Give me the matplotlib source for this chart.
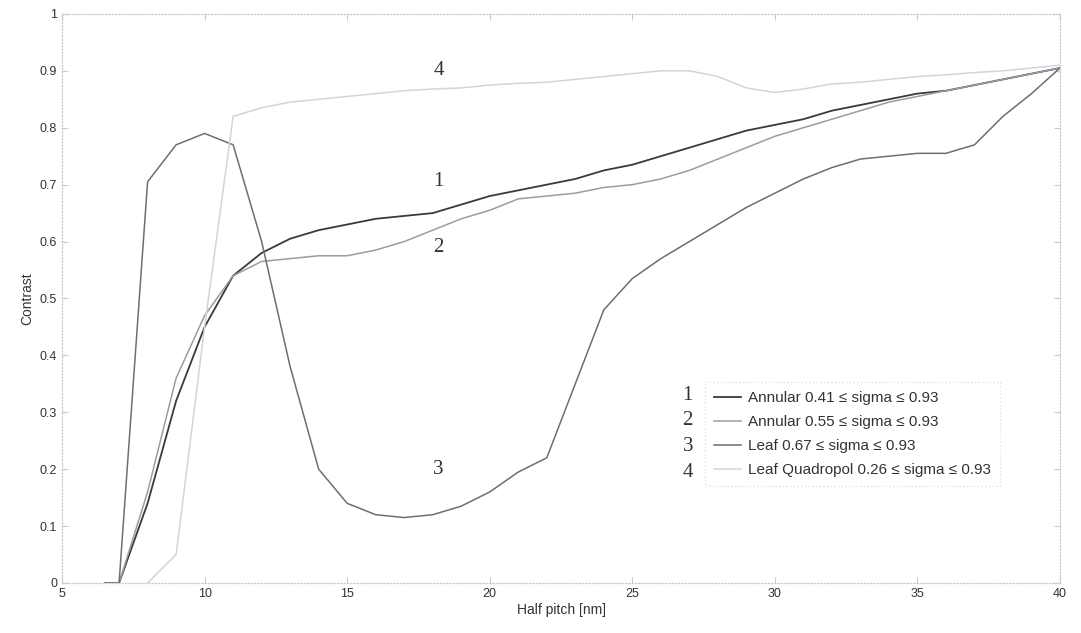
import matplotlib
matplotlib.use("Agg")
import matplotlib.pyplot as plt

plt.rcParams['font.family'] = ['Liberation Sans', 'DejaVu Sans']

# half pitch [nm]
pitch_1 = [6.5, 7, 8, 9, 10, 11, 12, 13, 14, 15, 16, 17, 18, 19, 20, 21, 22, 23,
           24, 25, 26, 27, 28, 29, 30, 31, 32, 33, 34, 35, 36, 37, 38, 39, 40]
annular_041 = [0, 0, 0.14, 0.32, 0.45, 0.54, 0.58, 0.605, 0.62, 0.63, 0.64, 0.645,
               0.65, 0.665, 0.68, 0.69, 0.70, 0.71, 0.725, 0.735, 0.75, 0.765,
               0.78, 0.795, 0.805, 0.815, 0.83, 0.84, 0.85, 0.86, 0.865, 0.875,
               0.885, 0.895, 0.905]
annular_055 = [0, 0, 0.16, 0.36, 0.47, 0.54, 0.565, 0.57, 0.575, 0.575, 0.585, 0.60,
               0.62, 0.64, 0.655, 0.675, 0.68, 0.685, 0.695, 0.70, 0.71, 0.725,
               0.745, 0.765, 0.785, 0.80, 0.815, 0.83, 0.845, 0.855, 0.865, 0.875,
               0.885, 0.895, 0.905]
leaf_067 = [0, 0, 0.705, 0.77, 0.79, 0.77, 0.60, 0.38, 0.20, 0.14, 0.12, 0.115,
            0.12, 0.135, 0.16, 0.195, 0.22, 0.35, 0.48, 0.535, 0.57, 0.60, 0.63,
            0.66, 0.685, 0.71, 0.73, 0.745, 0.75, 0.755, 0.755, 0.77, 0.82, 0.86,
            0.905]
pitch_4 = [8, 9, 10, 11, 12, 13, 14, 15, 16, 17, 18, 19, 20, 21, 22, 23, 24, 25,
           26, 27, 28, 29, 30, 31, 32, 33, 34, 35, 36, 37, 38, 39, 40]
leaf_quad = [0, 0.05, 0.45, 0.82, 0.835, 0.845, 0.85, 0.855, 0.86, 0.865, 0.868,
             0.87, 0.875, 0.878, 0.88, 0.885, 0.89, 0.895, 0.90, 0.90, 0.89, 0.87,
             0.862, 0.868, 0.877, 0.88, 0.885, 0.89, 0.893, 0.897, 0.90, 0.905, 0.91]

labels = ['Annular 0.41 \u2264 sigma \u2264 0.93',
          'Annular 0.55 \u2264 sigma \u2264 0.93',
          'Leaf 0.67 \u2264 sigma \u2264 0.93',
          'Leaf Quadropol 0.26 \u2264 sigma \u2264 0.93']
curve_ids = ['1', '2', '3', '4']
# curve numbers written next to the curves (same order as curve_ids)
id_x = [18.2, 18.2, 18.2, 18.2]
id_y = [0.705, 0.59, 0.20, 0.90]

fig = plt.figure(figsize=(10.81, 6.33), dpi=100)
ax = fig.add_axes([0.0574, 0.079, 0.9232, 0.899])

ax.plot(pitch_1, annular_041, color='#3a3a3a', lw=1.3, label=labels[0])
ax.plot(pitch_1, annular_055, color='#9a9ca4', lw=1.1, label=labels[1])
ax.plot(pitch_1, leaf_067, color='#6e6e72', lw=1.1, label=labels[2])
ax.plot(pitch_4, leaf_quad, color='#d2d4dc', lw=1.1, label=labels[3])

for t, x, y in zip(curve_ids, id_x, id_y):
    ax.text(x, y, t, family='Liberation Serif', fontsize=15, color='#333333',
            ha='center', va='center')

ax.set_xlim(5, 40)
ax.set_ylim(0, 1)
ax.set_xticks([5, 10, 15, 20, 25, 30, 35, 40])
ax.set_yticks([0, 0.1, 0.2, 0.3, 0.4, 0.5, 0.6, 0.7, 0.8, 0.9, 1])
ax.set_yticklabels(['0', '0.1', '0.2', '0.3', '0.4', '0.5', '0.6', '0.7', '0.8', '0.9', '1'])
ax.tick_params(direction='in', length=4, color='#c8cad2', labelsize=9,
               labelcolor='#333333', top=True, right=True)
for s in ax.spines.values():
    s.set_color('#c8cad2')
    s.set_linestyle(':')
    s.set_linewidth(0.9)

ax.set_xlabel('Half pitch [nm]', fontsize=10, color='#333333', labelpad=2)
ax.set_ylabel('Contrast', fontsize=10, color='#333333', labelpad=4)

leg = ax.legend(loc='upper left', bbox_to_anchor=(0.644, 0.353), fontsize=11,
                handlelength=1.8, handletextpad=0.4, labelspacing=0.65,
                frameon=True, fancybox=False, borderpad=0.6, borderaxespad=0)
leg.get_frame().set_edgecolor('#d8dae0')
leg.get_frame().set_linestyle(':')
for t in leg.get_texts():
    t.set_color('#333333')

# numbers to the left of the legend box
leg_y = [0.330, 0.285, 0.240, 0.195]
for t, y in zip(curve_ids, leg_y):
    ax.text(0.627, y, t, transform=ax.transAxes, family='Liberation Serif',
            fontsize=15, color='#333333', ha='center', va='center')

fig.savefig('out.png', dpi=100)
